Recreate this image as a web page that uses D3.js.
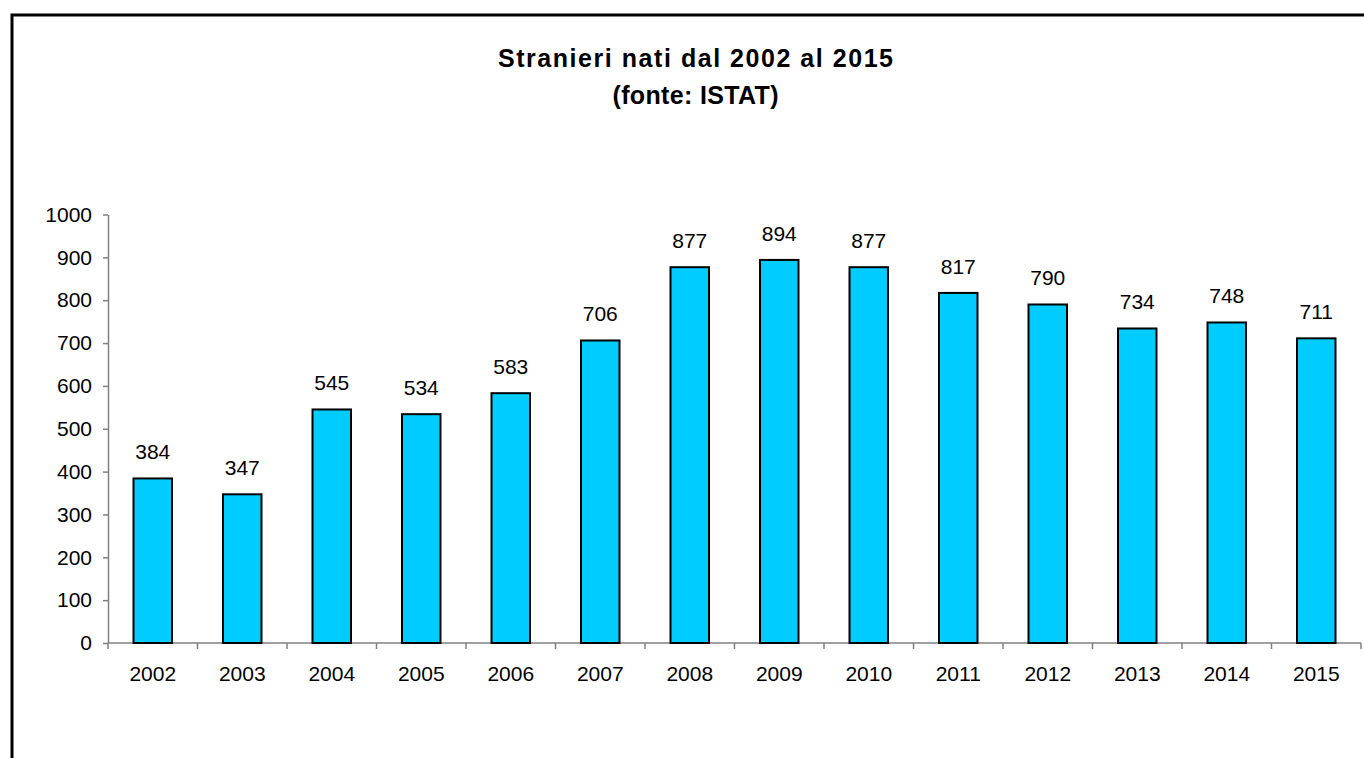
<!DOCTYPE html>
<html>
<head>
<meta charset="utf-8">
<script src="https://cdn.jsdelivr.net/npm/d3@7"></script>
<style>
  body { margin: 0; background: #fff; }
  text { font-family: "Liberation Sans", Arial, sans-serif; }
</style>
</head>
<body>
<script>
// data
var years = ["2002","2003","2004","2005","2006","2007","2008","2009","2010","2011","2012","2013","2014","2015"];
var births = [384, 347, 545, 534, 583, 706, 877, 894, 877, 817, 790, 734, 748, 711];
var yTicks = [0, 100, 200, 300, 400, 500, 600, 700, 800, 900, 1000];
var titleLines = ["Stranieri nati dal 2002 al 2015", "(fonte: ISTAT)"];
var titleWidths = [395, 166];

var width = 1364, height = 758;
var plotLeft = 108, plotRight = 1361, plotTop = 214.5, plotBottom = 643;

var svg = d3.select("body").append("svg")
    .attr("width", width)
    .attr("height", height);

svg.append("rect")
    .attr("width", width).attr("height", height)
    .attr("fill", "#fff");

/* outer frame, only top and left visible */
svg.append("path")
    .attr("d", "M12," + height + " L12,15 L" + width + ",15")
    .attr("fill", "none")
    .attr("stroke", "#000")
    .attr("stroke-width", 3);

/* title */
svg.selectAll(".title")
    .data(titleLines)
  .enter().append("text")
    .attr("class", "title")
    .attr("x", 695.5)
    .attr("y", function(d, i) { return 67 + i * 37; })
    .attr("text-anchor", "middle")
    .attr("font-size", 25)
    .attr("font-weight", "bold")
    .attr("fill", "#000")
    .attr("textLength", function(d, i) { return titleWidths[i]; })
    .attr("lengthAdjust", "spacing")
    .text(function(d) { return d; });

var x = d3.scaleBand()
    .domain(years)
    .range([plotLeft, plotRight])
    .padding(0);

var y = d3.scaleLinear()
    .domain([0, 1000])
    .range([plotBottom, plotTop]);

/* y axis */
var yAxis = svg.append("g")
    .attr("transform", "translate(" + plotLeft + ",0)")
    .call(d3.axisLeft(y).tickValues(yTicks).tickFormat(d3.format("d"))
        .tickSize(5).tickSizeOuter(0).tickPadding(11));
yAxis.selectAll("text")
    .attr("font-size", 21)
    .attr("font-family", "Liberation Sans, Arial, sans-serif")
    .attr("fill", "#000");
yAxis.selectAll("line, path").attr("stroke", "#808080").attr("stroke-width", 1.5);

/* x axis: line plus ticks between categories */
var xAxis = svg.append("g")
    .attr("transform", "translate(0," + plotBottom + ")");
xAxis.append("line")
    .attr("x1", plotLeft).attr("x2", plotRight)
    .attr("stroke", "#808080").attr("stroke-width", 1.5);
xAxis.selectAll(".tick")
    .data(years.map(function(d) { return x(d); }).concat([plotRight]))
  .enter().append("line")
    .attr("x1", function(d) { return d; })
    .attr("x2", function(d) { return d; })
    .attr("y1", 0).attr("y2", 6)
    .attr("stroke", "#808080").attr("stroke-width", 1.5);
xAxis.selectAll(".lbl")
    .data(years)
  .enter().append("text")
    .attr("x", function(d) { return x(d) + x.bandwidth() / 2; })
    .attr("y", 38)
    .attr("text-anchor", "middle")
    .attr("font-size", 21)
    .attr("fill", "#000")
    .text(function(d) { return d; });

/* bars */
var barW = x.bandwidth() * 0.43;
svg.selectAll(".bar")
    .data(births)
  .enter().append("rect")
    .attr("class", "bar")
    .attr("x", function(d, i) { return x(years[i]) + (x.bandwidth() - barW) / 2; })
    .attr("y", function(d) { return y(d); })
    .attr("width", barW)
    .attr("height", function(d) { return y(0) - y(d); })
    .attr("fill", "#00CCFF")
    .attr("stroke", "#000")
    .attr("stroke-width", 2);

/* value labels */
svg.selectAll(".val")
    .data(births)
  .enter().append("text")
    .attr("class", "val")
    .attr("x", function(d, i) { return x(years[i]) + x.bandwidth() / 2; })
    .attr("y", function(d) { return y(d) - 19; })
    .attr("text-anchor", "middle")
    .attr("font-size", 21)
    .attr("fill", "#000")
    .text(function(d) { return d; });
</script>
</body>
</html>
